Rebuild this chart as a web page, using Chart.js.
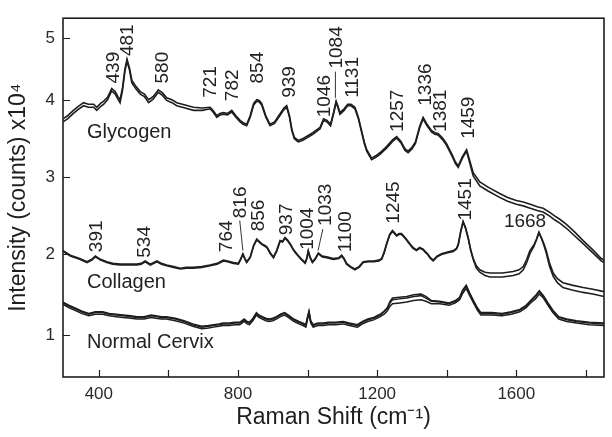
<!DOCTYPE html>
<html><head><meta charset="utf-8">
<script src="https://cdn.jsdelivr.net/npm/chart.js@4.4.1/dist/chart.umd.min.js"></script>
<style>html,body{margin:0;padding:0;background:#fff}#wrap{width:612px;height:437px}</style>
</head><body><div id="wrap"><canvas id="c" width="612" height="437"></canvas></div>
<script>
// ---------- data (Raman shift in cm^-1, intensity in counts x10^4) ----------
const glycogenX = [297,310,327,340,356,370,385,394,405,414,
  425,437,447,455,461,468,475,481,488,495,
  507,519,531,543,556,571,583,595,610,624,
  648,672,697,720,730,739,748,758,770,782,
  794,806,815,825,835,845,854,861,868,880,
  892,905,920,932,940,948,955,962,973,985,
  997,1015,1036,1046,1056,1066,1075,1082,1087,1093,
  1105,1115,1125,1136,1146,1155,1163,1170,1184,1196,
  1208,1227,1245,1256,1268,1280,1289,1300,1310,1322,
  1332,1342,1356,1366,1375,1388,1399,1415,1425,1433,
  1445,1457,1466,1476,1495,1520,1552,1575,1600,1620,
  1640,1660,1677,1695,1710,1727,1744,1768,1792,1820,
  1844,1852];
const glycogenA = [3.76,3.80,3.87,3.92,3.97,3.95,3.95,3.91,3.96,3.99,
  4.05,4.19,4.14,4.06,4.01,4.20,4.50,4.66,4.52,4.32,
  4.22,4.14,4.10,4.01,4.06,4.17,4.12,4.04,4.01,3.97,
  3.94,3.91,3.90,3.91,3.86,3.80,3.83,3.84,3.83,3.87,
  3.80,3.74,3.71,3.69,3.80,3.96,4.01,4.00,3.96,3.80,
  3.69,3.72,3.82,3.90,3.93,3.80,3.62,3.52,3.48,3.50,
  3.53,3.58,3.65,3.76,3.74,3.69,3.85,3.99,3.93,3.84,
  3.89,3.95,3.95,3.91,3.78,3.61,3.46,3.36,3.25,3.28,
  3.32,3.40,3.49,3.53,3.47,3.37,3.34,3.39,3.46,3.66,
  3.78,3.70,3.61,3.58,3.57,3.51,3.44,3.30,3.20,3.15,
  3.27,3.36,3.22,3.06,2.94,2.87,2.79,2.74,2.70,2.68,
  2.65,2.62,2.60,2.55,2.50,2.45,2.39,2.29,2.18,2.06,
  1.95,1.93];
const glycogenB = [3.72,3.76,3.83,3.88,3.93,3.91,3.91,3.87,3.92,3.95,
  4.01,4.15,4.10,4.02,3.97,4.16,4.47,4.63,4.49,4.28,
  4.18,4.10,4.06,3.97,4.02,4.13,4.08,4.00,3.97,3.93,
  3.90,3.87,3.87,3.89,3.84,3.78,3.81,3.82,3.81,3.85,
  3.78,3.72,3.69,3.67,3.78,3.94,3.99,3.98,3.94,3.78,
  3.67,3.70,3.80,3.88,3.91,3.78,3.60,3.50,3.46,3.48,
  3.51,3.56,3.63,3.74,3.72,3.67,3.83,3.97,3.91,3.82,
  3.87,3.93,3.93,3.89,3.76,3.59,3.44,3.34,3.23,3.26,
  3.30,3.38,3.47,3.51,3.45,3.35,3.32,3.37,3.44,3.64,
  3.76,3.68,3.59,3.56,3.55,3.49,3.42,3.28,3.18,3.13,
  3.25,3.34,3.19,3.02,2.89,2.82,2.74,2.69,2.65,2.63,
  2.60,2.57,2.55,2.50,2.45,2.40,2.34,2.24,2.14,2.02,
  1.92,1.90];

const collagenX = [297,318,345,366,380,390,405,423,440,461,
  485,509,522,533,548,567,580,595,615,634,
  652,672,696,720,740,758,770,787,801,808,
  814,820,825,835,845,854,861,868,876,883,
  893,902,911,921,928,935,942,950,960,969,
  981,993,998,1002,1007,1014,1022,1031,1042,1055,
  1074,1090,1098,1105,1112,1124,1136,1148,1160,1175,
  1190,1205,1213,1220,1227,1236,1244,1250,1256,1263,
  1270,1282,1294,1303,1313,1322,1332,1340,1345,1353,
  1361,1372,1385,1400,1419,1428,1433,1440,1447,1454,
  1462,1469,1476,1485,1495,1510,1524,1560,1591,1608,
  1620,1630,1639,1650,1658,1665,1672,1680,1686,1695,
  1706,1718,1734,1760,1792,1820,1852];
const collagenA = [2.05,1.99,1.95,1.91,1.94,1.98,1.94,1.91,1.89,1.88,
  1.88,1.88,1.89,1.92,1.88,1.92,1.89,1.87,1.85,1.83,
  1.84,1.84,1.85,1.87,1.89,1.93,1.92,1.90,1.89,1.95,
  2.01,1.95,1.91,1.97,2.12,2.20,2.17,2.14,2.12,2.10,
  2.02,1.97,2.05,2.18,2.17,2.22,2.19,2.14,2.06,2.01,
  1.95,1.90,1.96,2.05,1.97,1.91,1.95,2.02,1.98,1.97,
  1.95,1.96,1.99,1.95,1.89,1.85,1.82,1.85,1.91,1.92,
  1.92,1.93,1.95,2.03,2.14,2.26,2.31,2.28,2.25,2.27,
  2.27,2.21,2.14,2.09,2.06,2.09,2.07,2.03,2.01,1.96,
  1.93,1.98,2.01,2.03,2.05,2.08,2.13,2.30,2.43,2.35,
  2.21,2.06,1.95,1.86,1.81,1.78,1.77,1.77,1.79,1.81,
  1.85,1.94,2.05,2.12,2.20,2.29,2.22,2.13,2.05,1.90,
  1.77,1.70,1.65,1.62,1.59,1.57,1.54];
const collagenB = [2.04,1.98,1.94,1.90,1.93,1.97,1.93,1.90,1.88,1.87,
  1.87,1.87,1.88,1.91,1.87,1.91,1.88,1.86,1.84,1.82,
  1.83,1.83,1.84,1.86,1.88,1.92,1.91,1.89,1.88,1.94,
  2.00,1.94,1.90,1.96,2.11,2.19,2.16,2.13,2.11,2.09,
  2.01,1.96,2.04,2.17,2.16,2.21,2.18,2.13,2.05,2.00,
  1.94,1.89,1.95,2.04,1.96,1.90,1.94,2.01,1.97,1.96,
  1.94,1.95,1.98,1.94,1.88,1.84,1.81,1.84,1.90,1.91,
  1.91,1.92,1.94,2.02,2.13,2.25,2.30,2.27,2.24,2.26,
  2.26,2.20,2.13,2.08,2.05,2.08,2.06,2.02,2.00,1.95,
  1.92,1.97,2.00,2.02,2.04,2.07,2.12,2.29,2.42,2.34,
  2.20,2.05,1.94,1.83,1.78,1.74,1.72,1.72,1.74,1.76,
  1.81,1.90,2.01,2.10,2.19,2.28,2.21,2.11,2.02,1.86,
  1.73,1.65,1.59,1.56,1.53,1.51,1.48];

const normalX = [297,315,330,350,371,390,411,430,450,470,
  492,510,530,550,564,580,594,620,645,670,
  696,715,730,745,757,775,790,805,818,826,
  833,843,853,860,870,880,889,900,910,922,
  934,945,960,975,987,995,1000,1004,1009,1016,
  1030,1045,1061,1080,1102,1120,1143,1158,1173,1190,
  1209,1220,1229,1237,1244,1265,1285,1305,1326,1340,
  1356,1380,1407,1425,1437,1446,1456,1465,1478,1488,
  1498,1515,1530,1559,1585,1610,1628,1641,1655,1666,
  1678,1691,1705,1722,1745,1773,1810,1852];
const normalA = [1.40,1.36,1.33,1.29,1.26,1.28,1.28,1.26,1.25,1.24,
  1.23,1.22,1.22,1.24,1.23,1.22,1.22,1.20,1.17,1.13,
  1.10,1.11,1.12,1.13,1.14,1.14,1.15,1.15,1.19,1.16,
  1.15,1.20,1.27,1.24,1.22,1.20,1.19,1.20,1.22,1.25,
  1.27,1.24,1.19,1.16,1.14,1.12,1.22,1.29,1.17,1.12,
  1.14,1.14,1.15,1.15,1.16,1.14,1.12,1.16,1.19,1.21,
  1.25,1.29,1.33,1.40,1.44,1.45,1.46,1.48,1.49,1.46,
  1.42,1.41,1.39,1.42,1.46,1.55,1.61,1.52,1.41,1.33,
  1.27,1.27,1.27,1.26,1.28,1.31,1.36,1.42,1.48,1.54,
  1.48,1.39,1.30,1.22,1.19,1.17,1.15,1.14];
const normalB = [1.38,1.34,1.31,1.27,1.24,1.26,1.26,1.24,1.23,1.22,
  1.21,1.20,1.20,1.22,1.21,1.20,1.20,1.18,1.15,1.11,
  1.08,1.09,1.10,1.11,1.12,1.12,1.13,1.13,1.17,1.14,
  1.13,1.18,1.25,1.22,1.20,1.18,1.17,1.18,1.20,1.23,
  1.25,1.22,1.17,1.14,1.12,1.10,1.20,1.27,1.15,1.10,
  1.12,1.12,1.13,1.13,1.14,1.12,1.10,1.14,1.17,1.19,
  1.23,1.26,1.30,1.36,1.39,1.40,1.41,1.43,1.44,1.42,
  1.39,1.39,1.37,1.40,1.44,1.52,1.58,1.50,1.39,1.31,
  1.25,1.25,1.25,1.24,1.26,1.29,1.34,1.40,1.45,1.51,
  1.46,1.37,1.28,1.20,1.17,1.15,1.13,1.12];
const normalC = [1.41,1.37,1.34,1.30,1.27,1.29,1.29,1.27,1.26,1.25,
  1.24,1.23,1.23,1.25,1.24,1.23,1.23,1.21,1.18,1.14,
  1.11,1.12,1.13,1.14,1.15,1.15,1.16,1.16,1.20,1.17,
  1.16,1.21,1.28,1.25,1.23,1.21,1.20,1.21,1.23,1.26,
  1.28,1.25,1.20,1.17,1.15,1.13,1.23,1.30,1.18,1.13,
  1.15,1.15,1.16,1.16,1.17,1.15,1.13,1.17,1.20,1.22,
  1.26,1.30,1.34,1.42,1.46,1.47,1.48,1.50,1.51,1.48,
  1.43,1.42,1.40,1.43,1.47,1.56,1.62,1.53,1.42,1.34,
  1.28,1.28,1.28,1.27,1.29,1.32,1.37,1.43,1.49,1.55,
  1.49,1.40,1.31,1.23,1.20,1.18,1.16,1.15];

const xTickLabels = [400, 800, 1200, 1600];
const yTickLabels = [1, 2, 3, 4, 5];

// sample names (anchor in data units)
const groupLabels = [
  {t: 'Glycogen', x: 366, y: 3.58},
  {t: 'Collagen', x: 366, y: 1.65},
  {t: 'Normal Cervix', x: 366, y: 0.91}
];
// peak labels: text, x (cm^-1), y = base of the vertical text
const peakLabels = [
  {t:'439', x:439, y:4.27}, {t:'481', x:481, y:4.71}, {t:'580', x:580, y:4.27},
  {t:'721', x:718, y:4.04}, {t:'782', x:782, y:3.99}, {t:'854', x:854, y:4.27},
  {t:'939', x:945, y:4.04}, {t:'1046', x:1046, y:3.78}, {t:'1084', x:1080, y:4.51},
  {t:'1131', x:1127, y:4.04}, {t:'1257', x:1257, y:3.59}, {t:'1336', x:1336, y:3.93},
  {t:'1381', x:1381, y:3.59}, {t:'1459', x:1459, y:3.50},
  {t:'391', x:391, y:2.03}, {t:'534', x:530, y:1.96}, {t:'764', x:764, y:2.03},
  {t:'816', x:804, y:2.47}, {t:'856', x:856, y:2.30}, {t:'937', x:937, y:2.25},
  {t:'1004', x:997, y:2.06}, {t:'1033', x:1050, y:2.37}, {t:'1100', x:1107, y:2.03},
  {t:'1245', x:1245, y:2.40}, {t:'1451', x:1451, y:2.44}
];
const flatLabels = [{t:'1668', x:1625, y:2.42}];
const leaderLines = [
  [1080, 4.46, 1080, 4.04],
  [805, 2.44, 814, 2.05],
  [1044, 2.33, 1030, 2.05]
];

// ---------- non-uniform intensity axis as printed ----------
const Y_WARP_VALUES = [0.494, 1, 2, 3, 4, 5, 5.316];
const Y_WARP_FRACS  = [0, 0.1165, 0.3415, 0.5564, 0.7710, 0.9450, 1];
function interp(v, xs, ys) {
  let i = 1;
  while (i < xs.length - 1 && v > xs[i]) i++;
  const x0 = xs[i-1], x1 = xs[i], y0 = ys[i-1], y1 = ys[i];
  return y0 + (v - x0) * (y1 - y0) / (x1 - x0);
}
class WarpedLinearScale extends Chart.LinearScale {
  getPixelForValue(value) {
    if (value === null || value === undefined || isNaN(value)) return NaN;
    return this.bottom - interp(value, Y_WARP_VALUES, Y_WARP_FRACS) * (this.bottom - this.top);
  }
  getValueForPixel(pixel) {
    return interp((this.bottom - pixel) / (this.bottom - this.top), Y_WARP_FRACS, Y_WARP_VALUES);
  }
}
WarpedLinearScale.id = 'warpedLinear';
WarpedLinearScale.defaults = Chart.LinearScale.defaults;
Chart.register(WarpedLinearScale);

const FONT = '"Liberation Sans", Arial, Helvetica, sans-serif';
const INK = '#1e1e1e';
const toPts = (xs, ys) => xs.map((x, i) => ({x, y: ys[i]}));
const ds = (xs, ys, w) => ({data: toPts(xs, ys), borderColor: INK, borderWidth: w, pointRadius: 0, fill: false, tension: 0});

const annotate = {
  id: 'annotate',
  afterDatasetsDraw(chart) {
    const {ctx, chartArea: a, scales: {x, y}} = chart;
    ctx.save();
    ctx.strokeStyle = INK;
    ctx.lineWidth = 1.2;
    ctx.beginPath();
    x.ticks.forEach(t => { const p = Math.round(x.getPixelForValue(t.value)) + 0.5; ctx.moveTo(p, a.bottom); ctx.lineTo(p, a.bottom - 7); });
    y.ticks.forEach(t => { const p = Math.round(y.getPixelForValue(t.value)) + 0.5; ctx.moveTo(a.left, p); ctx.lineTo(a.left + 7, p); });
    ctx.stroke();
    ctx.lineWidth = 1.6;
    ctx.strokeRect(a.left, a.top, a.right - a.left, a.bottom - a.top);

    ctx.lineWidth = 0.9;
    ctx.beginPath();
    leaderLines.forEach(l => { ctx.moveTo(x.getPixelForValue(l[0]), y.getPixelForValue(l[1])); ctx.lineTo(x.getPixelForValue(l[2]), y.getPixelForValue(l[3])); });
    ctx.stroke();

    ctx.fillStyle = '#222';
    ctx.textAlign = 'left';
    ctx.textBaseline = 'middle';
    ctx.font = '20px ' + FONT;
    groupLabels.forEach(g => ctx.fillText(g.t, x.getPixelForValue(g.x), y.getPixelForValue(g.y)));

    ctx.font = '19px ' + FONT;
    peakLabels.forEach(p => {
      ctx.save();
      ctx.translate(x.getPixelForValue(p.x), y.getPixelForValue(p.y));
      ctx.rotate(-Math.PI / 2);
      ctx.fillText(p.t, 0, 1);
      ctx.restore();
    });
    ctx.textAlign = 'center';
    flatLabels.forEach(p => ctx.fillText(p.t, x.getPixelForValue(p.x), y.getPixelForValue(p.y)));
    ctx.restore();
  }
};

new Chart(document.getElementById('c'), {
  type: 'line',
  data: {
    datasets: [
      ds(glycogenX, glycogenA, 1.6), ds(glycogenX, glycogenB, 1.6),
      ds(collagenX, collagenA, 1.6), ds(collagenX, collagenB, 1.6),
      ds(normalX, normalA, 1.5), ds(normalX, normalB, 1.5), ds(normalX, normalC, 1.5)
    ]
  },
  options: {
    responsive: false,
    animation: false,
    devicePixelRatio: 1,
    layout: {padding: {top: 8, right: 8, left: 0, bottom: 0}},
    plugins: {legend: {display: false}, tooltip: {enabled: false}},
    scales: {
      x: {
        type: 'linear', min: 297, max: 1852,
        afterFit: s => { s.height = 60; },
        grid: {display: false, drawTicks: false},
        border: {display: false},
        ticks: {
          stepSize: 200, includeBounds: false, autoSkip: false, maxRotation: 0, padding: 7,
          color: '#2a2a2a', font: {size: 17, family: FONT},
          callback: v => xTickLabels.includes(v) ? String(v) : ''
        },
        title: {display: true, text: 'Raman Shift (cm\u207B\u00B9)', color: '#1e1e1e', font: {size: 23, family: FONT}, padding: {top: 0, bottom: 6}}
      },
      y: {
        type: 'warpedLinear', min: 0.494, max: 5.316,
        afterFit: s => { s.width = 63; },
        grid: {display: false, drawTicks: false},
        border: {display: false},
        ticks: {
          stepSize: 1, includeBounds: false, autoSkip: false, padding: 8,
          color: '#2a2a2a', font: {size: 17, family: FONT},
          callback: v => yTickLabels.includes(v) ? String(v) : ''
        },
        title: {display: true, text: 'Intensity (counts) x10\u2074', color: '#1e1e1e', font: {size: 23, family: FONT}, padding: {top: 5, bottom: 0}}
      }
    }
  },
  plugins: [annotate]
});
</script>
</body></html>
